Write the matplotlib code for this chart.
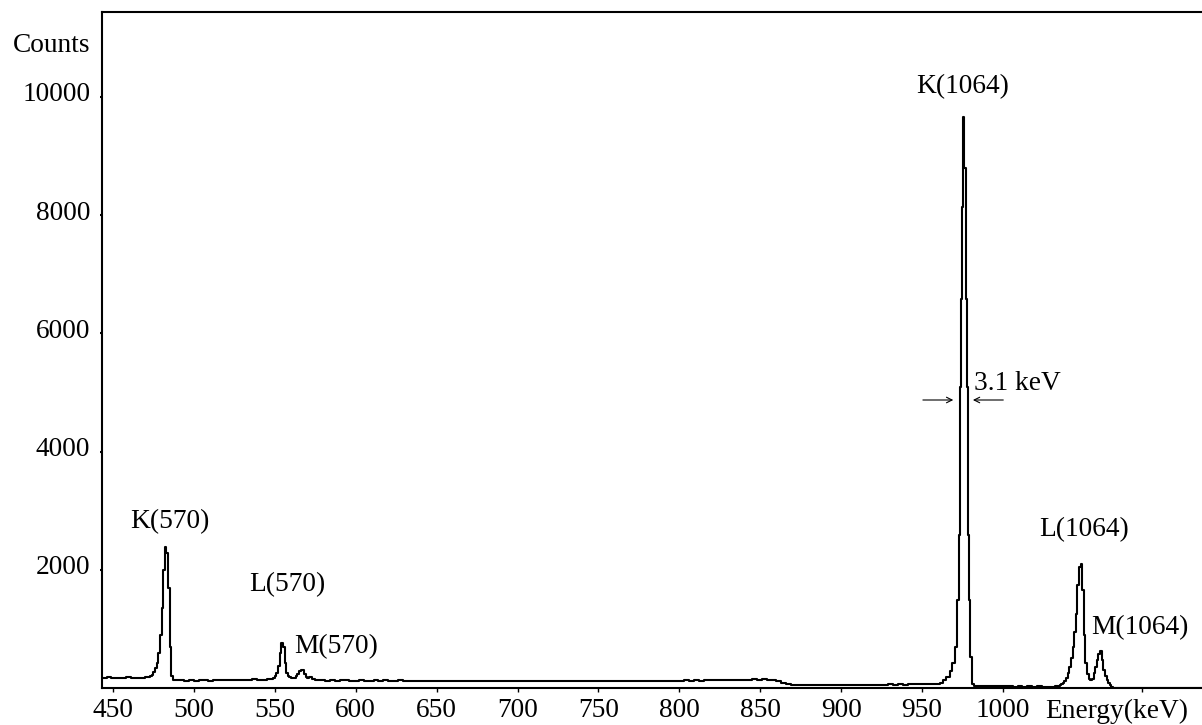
import numpy as np
import matplotlib
matplotlib.use("Agg")
import matplotlib.pyplot as plt
import matplotlib.transforms as mtransforms

plt.rcParams["font.family"] = ["Liberation Serif", "DejaVu Serif"]

# --- spectrum (energy in keV, counts per channel) ---
# background below K(570), 3 keV groups from 443 keV
bg1_e0, bg1 = 443, [170, 182, 168, 175, 165, 180, 170, 176, 168, 185]
# K(570) peak, 1 keV channels from 473 keV
k570_e0, k570 = 473, [195, 220, 270, 330, 420, 600, 900, 1350, 2000, 2390,
                      2280, 1690, 700, 200, 130]
# background between K and L(570), 3 keV groups from 488 keV
bg2_e0, bg2 = 488, [128, 134, 122, 138, 126, 132, 140, 124, 136, 128,
                    140, 130, 137, 142, 130, 138, 145, 133, 140, 148]
# L(570) + M(570), 1 keV channels from 548 keV
lm570_e0, lm570 = 548, [150, 165, 200, 260, 380, 600, 760, 700, 420, 260,
                        200, 180, 170, 165, 175, 200, 240, 290, 310, 300,
                        240, 190, 175, 190, 185, 160, 150]
# long background up to the K(1064) tail, 3 keV groups from 575 keV
bg3_e0, bg3 = 575, [140, 132, 125, 130, 122, 128, 135, 120, 126, 130,
                    124, 118, 127, 122, 130, 120, 125, 128, 119, 124,
                    126, 120, 118, 125, 122, 116, 124, 120, 118, 123,
                    117, 121, 115, 120, 124, 118, 116, 122, 119, 115,
                    120, 118, 123, 116, 119, 121, 115, 120, 117, 122,
                    118, 114, 120, 117, 121, 116, 119, 115, 120, 118,
                    116, 121, 118, 114, 119, 122, 117, 120, 116, 123,
                    119, 125, 121, 118, 126, 122, 128, 124, 130, 126,
                    132, 128, 135, 130, 138, 134, 140, 136, 142, 138,
                    144, 140, 146, 142, 138, 120, 85, 60, 55, 58,
                    52, 56, 50, 54, 48, 55, 51, 46, 53, 50,
                    55, 49, 52, 57, 50, 54, 58, 53, 60, 56,
                    62, 58, 65, 60, 68, 64, 72, 70]
# K(1064) peak, channel edges as read
k1064_e = [959, 961, 963, 965, 967, 968.3, 970.4, 971.4, 971.8, 972.7, 973.3,
           973.9, 974.5, 975.1, 976.2, 977.1, 977.6, 978.2, 979.2, 979.6, 980.7]
k1064 = [70, 85, 130, 190, 290, 420, 700, 980, 1490, 2590, 5100,
         6580, 8140, 9660, 8800, 6580, 5100, 2590, 1490, 530, 60]
# background between K and L(1064), 3 keV groups from 982 keV
bg4_e0, bg4 = 982, [40, 35, 30, 32, 28, 30, 26, 29, 25, 28, 24, 27, 23, 26, 24, 25]
# L(1064) + M(1064), 1 keV channels from 1030 keV
lm1064_e0, lm1064 = 1030, [25, 25, 30, 35, 40, 50, 65, 85, 120, 170,
                           250, 350, 500, 700, 950, 1250, 1750, 2050, 2100, 1650,
                           900, 420, 230, 150, 135, 160, 250, 360, 470, 580,
                           620, 480, 300, 200, 130, 85, 45, 15, 5]
# high end, 3 keV groups from 1069 keV
bg5_e0, bg5 = 1069, [5, 3, 2, 4, 2, 3, 1, 2, 3, 2, 1, 2, 3, 2, 1, 2, 2, 1, 2]

x_ticks = [450, 500, 550, 600, 650, 700, 750, 800, 850, 900, 950, 1000]
y_ticks = [2000, 4000, 6000, 8000, 10000]

labels = ["K(570)", "L(570)", "M(570)", "K(1064)", "L(1064)", "M(1064)"]
label_x = [485.2, 557.5, 587.8, 975.3, 1050.1, 1084.4]
label_y = [2810, 1743, 694, 10169, 2673, 1015]

FS = 19.7


def chan(e0, step, vals):
    return list(e0 + step * np.arange(len(vals))), list(vals)


energy, counts = [], []
for e, c in [chan(bg1_e0, 3, bg1), chan(k570_e0, 1, k570), chan(bg2_e0, 3, bg2),
             chan(lm570_e0, 1, lm570), chan(bg3_e0, 3, bg3), (k1064_e, k1064),
             chan(bg4_e0, 3, bg4), chan(lm1064_e0, 1, lm1064), chan(bg5_e0, 3, bg5)]:
    energy += list(e)
    counts += list(c)
energy.append(1126)
counts.append(counts[-1])

fig = plt.figure(figsize=(12.02, 7.25), dpi=100)
ax = fig.add_axes([102 / 1202, 37 / 725, 1100 / 1202, 676 / 725])

ax.step(energy, counts, where="post", color="black", lw=1.5)

ax.set_xlim(443.2, 1123)
ax.set_ylim(0, 11438)
ax.spines["right"].set_visible(False)
for s in ["left", "top", "bottom"]:
    ax.spines[s].set_linewidth(1.5)

ax.set_xticks(x_ticks + [1086])
ax.set_xticklabels([str(t) for t in x_ticks] + [""])
ax.set_yticks(y_ticks)
ax.set_yticklabels([str(t) for t in y_ticks])
ax.tick_params(axis="x", direction="out", length=3, width=1, pad=4.5, labelsize=FS)
ax.tick_params(axis="y", direction="out", length=1.5, width=1.5, pad=7, labelsize=FS)
off = mtransforms.ScaledTranslation(0, 5 / 100, fig.dpi_scale_trans)
for lbl in ax.get_yticklabels():
    lbl.set_transform(lbl.get_transform() + off)

ax.annotate("Energy(keV)", xy=(1070.5, 0), xycoords=("data", "axes fraction"),
            xytext=(0, -7.5), textcoords="offset points", ha="center", va="top",
            fontsize=FS)
fig.text(90 / 1202, 1 - 45 / 725, "Counts", ha="right", va="center", fontsize=FS)

for t, x, y in zip(labels, label_x, label_y):
    ax.text(x, y, t, ha="center", va="center", fontsize=FS)

# FWHM marker
ax.annotate("", xy=(971.0, 4873), xytext=(948.8, 4873),
            arrowprops=dict(arrowstyle="->", lw=0.8, color="black"))
ax.annotate("", xy=(979.7, 4873), xytext=(1001.9, 4873),
            arrowprops=dict(arrowstyle="->", lw=0.8, color="black"))
ax.text(982.1, 5160, "3.1 keV", ha="left", va="center", fontsize=FS)

fig.savefig("out.png", dpi=100)
